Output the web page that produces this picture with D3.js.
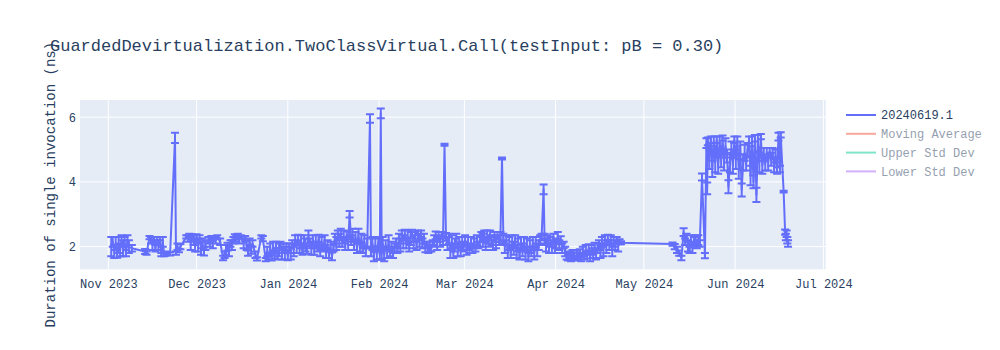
<!DOCTYPE html>
<html>
<head>
<meta charset="utf-8">
<script src="https://cdn.jsdelivr.net/npm/d3@7"></script>
<style>
  html, body { margin: 0; padding: 0; background: #fff; }
  svg { display: block; }
  text { font-family: "Liberation Mono", "Courier New", monospace; }
</style>
</head>
<body>
<svg id="chart" width="1000" height="350"></svg>
<script>
// ---------------- DATA ----------------
const chartTitle = "GuardedDevirtualization.TwoClassVirtual.Call(testInput: pB = 0.30)";
const yAxisTitle = "Duration of single invocation (ns)";
const seriesNames = ["20240619.1", "Moving Average", "Upper Std Dev", "Lower Std Dev"];
const seriesColors = ["#636efa", "#EF553B", "#00cc96", "#ab63fa"];
const seriesVisible = [true, false, false, false];
const yTickValues = [2, 4, 6];
const xRange = ["2023-10-22 09", "2024-07-01 19"];
const yRange = [1.30, 6.53];

const dates = [
  "2023-11-02 00","2023-11-02 12","2023-11-03 00","2023-11-03 12","2023-11-04 00","2023-11-04 12","2023-11-05 00","2023-11-05 12",
  "2023-11-06 00","2023-11-06 12","2023-11-07 00","2023-11-07 12","2023-11-08 00","2023-11-09 00","2023-11-13 12","2023-11-14 00",
  "2023-11-15 00","2023-11-15 12","2023-11-16 00","2023-11-16 12","2023-11-17 00","2023-11-17 12","2023-11-18 00","2023-11-18 12",
  "2023-11-19 00","2023-11-19 12","2023-11-20 00","2023-11-20 12","2023-11-21 00","2023-11-22 00","2023-11-23 16","2023-11-24 00",
  "2023-11-24 12","2023-11-25 00","2023-11-25 12","2023-11-27 12","2023-11-28 00","2023-11-28 12","2023-11-29 00","2023-11-29 12",
  "2023-11-30 00","2023-11-30 12",
  "2023-12-01 00","2023-12-01 12","2023-12-02 00","2023-12-02 12","2023-12-03 00","2023-12-03 12","2023-12-04 00","2023-12-05 00",
  "2023-12-05 12","2023-12-06 00","2023-12-06 12","2023-12-07 00","2023-12-07 12","2023-12-08 00","2023-12-09 00","2023-12-10 00",
  "2023-12-10 12","2023-12-11 00","2023-12-11 12","2023-12-12 00","2023-12-12 12","2023-12-13 00","2023-12-13 12","2023-12-14 00",
  "2023-12-14 12","2023-12-15 00","2023-12-15 12","2023-12-16 00","2023-12-17 00","2023-12-17 12","2023-12-18 00","2023-12-18 12",
  "2023-12-19 00","2023-12-19 12","2023-12-20 00","2023-12-21 00","2023-12-21 12","2023-12-23 00","2023-12-23 12","2023-12-24 12",
  "2023-12-25 00","2023-12-25 12","2023-12-26 00","2023-12-26 12","2023-12-27 00","2023-12-27 12","2023-12-28 00","2023-12-28 12",
  "2023-12-29 00","2023-12-29 12","2023-12-30 00","2023-12-30 12","2023-12-31 00","2023-12-31 12",
  "2024-01-01 00","2024-01-01 12","2024-01-02 00","2024-01-02 12","2024-01-03 00","2024-01-03 12","2024-01-04 00","2024-01-04 12",
  "2024-01-05 00","2024-01-05 12","2024-01-06 00","2024-01-06 12","2024-01-07 00","2024-01-07 12","2024-01-08 00","2024-01-08 12",
  "2024-01-09 00","2024-01-09 12","2024-01-10 00","2024-01-10 12","2024-01-11 00","2024-01-11 12","2024-01-12 00","2024-01-12 12",
  "2024-01-13 00","2024-01-13 12","2024-01-14 00","2024-01-14 12","2024-01-15 00","2024-01-15 12","2024-01-16 00","2024-01-16 12",
  "2024-01-17 00","2024-01-17 12","2024-01-18 00","2024-01-18 12","2024-01-19 00","2024-01-19 12","2024-01-20 00","2024-01-20 12",
  "2024-01-21 00","2024-01-21 12","2024-01-22 00","2024-01-22 12","2024-01-23 00","2024-01-23 12","2024-01-24 00","2024-01-24 12",
  "2024-01-25 00","2024-01-25 12","2024-01-26 00","2024-01-26 12","2024-01-27 00","2024-01-27 12","2024-01-28 00","2024-01-28 22",
  "2024-01-29 06","2024-01-29 18","2024-01-30 06","2024-01-30 18","2024-01-31 06","2024-01-31 18",
  "2024-02-01 06","2024-02-01 14","2024-02-01 22","2024-02-02 06","2024-02-02 18","2024-02-03 06","2024-02-03 18","2024-02-04 06",
  "2024-02-04 18","2024-02-05 06","2024-02-05 18","2024-02-06 06","2024-02-06 18","2024-02-07 06","2024-02-07 18","2024-02-08 06",
  "2024-02-08 18","2024-02-09 06","2024-02-09 18","2024-02-10 06","2024-02-10 18","2024-02-11 06","2024-02-11 18","2024-02-12 06",
  "2024-02-12 18","2024-02-13 06","2024-02-13 18","2024-02-14 06","2024-02-14 18","2024-02-15 06","2024-02-15 18","2024-02-16 06",
  "2024-02-16 18","2024-02-17 06","2024-02-17 18","2024-02-18 06","2024-02-18 18","2024-02-19 06","2024-02-19 18","2024-02-20 06",
  "2024-02-20 18","2024-02-21 06","2024-02-21 18","2024-02-22 06","2024-02-22 18","2024-02-23 06","2024-02-23 18","2024-02-24 06",
  "2024-02-24 18","2024-02-25 06","2024-02-25 18","2024-02-26 06","2024-02-26 18","2024-02-27 06","2024-02-27 18","2024-02-28 06",
  "2024-02-28 18","2024-02-29 06","2024-02-29 18",
  "2024-03-01 06","2024-03-01 18","2024-03-02 06","2024-03-02 18","2024-03-03 06","2024-03-03 18","2024-03-04 06","2024-03-04 18",
  "2024-03-05 06","2024-03-05 18","2024-03-06 06","2024-03-06 18","2024-03-07 06","2024-03-07 18","2024-03-08 06","2024-03-08 18",
  "2024-03-09 06","2024-03-09 18","2024-03-10 06","2024-03-10 18","2024-03-11 06","2024-03-11 18","2024-03-12 06","2024-03-12 18",
  "2024-03-13 06","2024-03-13 19","2024-03-14 06","2024-03-14 18","2024-03-15 06","2024-03-15 18","2024-03-16 06","2024-03-16 18",
  "2024-03-17 06","2024-03-17 18","2024-03-18 06","2024-03-18 18","2024-03-19 06","2024-03-19 18","2024-03-20 06","2024-03-20 18",
  "2024-03-21 06","2024-03-21 18","2024-03-22 06","2024-03-22 18","2024-03-23 06","2024-03-23 18","2024-03-24 06","2024-03-24 18",
  "2024-03-25 06","2024-03-25 18","2024-03-26 06","2024-03-26 18","2024-03-27 06","2024-03-27 22","2024-03-28 06","2024-03-28 18",
  "2024-03-29 06","2024-03-29 18","2024-03-30 06","2024-03-30 18","2024-03-31 06","2024-03-31 18",
  "2024-04-01 06","2024-04-01 18","2024-04-02 06","2024-04-02 18","2024-04-03 06","2024-04-03 18","2024-04-04 06","2024-04-04 18",
  "2024-04-05 06","2024-04-05 18","2024-04-06 06","2024-04-06 18","2024-04-07 06","2024-04-07 18","2024-04-08 06","2024-04-08 18",
  "2024-04-09 06","2024-04-09 18","2024-04-10 06","2024-04-10 18","2024-04-11 06","2024-04-11 18","2024-04-12 06","2024-04-12 18",
  "2024-04-13 06","2024-04-13 18","2024-04-14 06","2024-04-14 18","2024-04-15 06","2024-04-15 18","2024-04-16 06","2024-04-16 18",
  "2024-04-17 06","2024-04-17 18","2024-04-18 06","2024-04-18 18","2024-04-19 06","2024-04-19 18","2024-04-20 06","2024-04-20 18",
  "2024-04-21 06","2024-04-21 18","2024-04-22 06","2024-04-22 18","2024-04-23 06",
  "2024-05-10 18","2024-05-11 12","2024-05-12 06","2024-05-13 00","2024-05-13 18","2024-05-14 12","2024-05-15 00","2024-05-15 12",
  "2024-05-16 00","2024-05-16 12","2024-05-17 00","2024-05-17 12","2024-05-18 00","2024-05-18 12","2024-05-19 00","2024-05-19 12",
  "2024-05-20 00","2024-05-20 18","2024-05-21 18","2024-05-22 06","2024-05-22 12","2024-05-22 18","2024-05-23 06","2024-05-23 18",
  "2024-05-24 06","2024-05-24 18","2024-05-25 06","2024-05-25 18","2024-05-26 06","2024-05-26 18","2024-05-27 06","2024-05-27 18",
  "2024-05-28 06","2024-05-28 18","2024-05-29 06","2024-05-29 18","2024-05-30 06","2024-05-30 18","2024-05-31 06","2024-05-31 18",
  "2024-06-01 06","2024-06-01 18","2024-06-02 06","2024-06-02 18","2024-06-03 06","2024-06-03 18","2024-06-04 06","2024-06-04 18",
  "2024-06-05 06","2024-06-05 18","2024-06-06 06","2024-06-06 18","2024-06-07 06","2024-06-07 18","2024-06-08 06","2024-06-08 18",
  "2024-06-09 06","2024-06-09 18","2024-06-10 06","2024-06-10 18","2024-06-11 06","2024-06-11 18","2024-06-12 06","2024-06-12 18",
  "2024-06-13 06","2024-06-13 18","2024-06-14 06","2024-06-14 18","2024-06-15 06","2024-06-15 18","2024-06-16 06","2024-06-16 12",
  "2024-06-17 12","2024-06-18 00","2024-06-18 06","2024-06-18 12","2024-06-18 18","2024-06-19 00"
];

const values = [
  2.00,2.15,1.85,2.10,1.78,2.05,1.90,2.20, 1.95,2.15,1.80,2.20,2.00,1.95,1.85,1.80,
  2.28,2.20,2.05,2.25,1.95,2.20,2.05,2.25, 1.75,2.15,1.75,1.78,1.80,1.78,5.36,1.80,
  2.00,1.88,2.00,2.30,2.25,2.35,2.10,2.30, 2.20,2.00,
  2.30,2.05,2.25,1.95,2.10,1.85,2.05,2.20, 2.15,2.25,2.10,2.28,2.20,2.30,2.15,1.65,
  1.75,1.90,2.00,1.85,2.10,2.05,2.20,2.30, 2.25,2.35,2.20,2.30,2.10,2.25,2.05,1.80,
  2.15,1.90,2.10,1.75,1.62,2.30,2.25,1.60, 1.85,1.70,1.95,1.65,2.00,1.75,2.05,1.70,
  1.90,2.05,1.75,1.95,1.80,2.00,
  1.70,1.95,1.80,2.10,1.90,2.20,2.00,2.25, 1.95,2.15,1.85,2.20,2.05,1.90,2.30,2.10,
  1.95,2.20,1.90,2.15,2.00,2.25,1.85,2.10, 1.95,2.20,1.80,2.05,1.75,2.00,1.70,1.95,
  2.25,2.10,2.35,2.20,2.40,2.15,2.30,2.05, 2.35,2.10,3.00,2.20,2.35,2.05,2.30,1.95,
  2.35,2.00,2.25,1.90,2.15,1.85,2.10,5.96, 1.85,2.10,1.70,2.05,1.80,2.15,
  1.75,6.12,1.80,2.10,1.75,2.05,1.80,2.15, 1.85,2.00,1.75,1.95,2.10,1.90,2.25,2.05,
  2.35,2.15,2.40,2.10,2.30,2.00,2.25,2.40, 2.15,2.30,2.05,2.35,2.20,2.40,2.10,2.25,
  1.95,2.05,1.90,2.00,1.95,2.10,2.20,2.35, 2.10,2.30,2.15,2.35,2.20,5.15,2.30,2.10,
  2.25,1.85,2.15,1.80,2.05,2.25,1.90,2.15, 1.85,2.10,2.00,
  2.20,1.90,2.10,1.95,2.15,1.90,2.10,1.95, 2.20,2.05,2.15,2.30,2.20,2.35,2.10,2.30,
  2.15,2.40,2.20,2.05,2.30,2.15,2.35,2.20, 2.30,4.72,2.25,2.00,2.20,1.85,2.10,1.80,
  2.15,1.95,2.20,1.85,2.05,1.75,2.10,1.90, 2.15,1.80,2.05,1.70,2.00,1.85,2.10,1.80,
  2.15,1.90,2.05,2.20,2.30,3.77,2.25,2.05, 2.20,1.95,2.15,2.00,2.25,1.95,
  2.10,2.30,2.05,2.20,1.95,2.05,1.85,1.70, 1.65,1.75,1.65,1.80,1.70,1.65,1.75,1.70,
  1.80,1.65,1.85,1.70,1.90,1.75,1.95,1.70, 1.90,1.80,2.00,1.75,1.95,2.05,1.85,2.15,
  1.90,2.20,2.00,2.25,2.05,2.20,1.90,2.15, 2.05,2.20,2.00,2.15,2.12,
  2.08,2.00,1.90,1.80,1.65,2.45,2.15,2.30, 2.00,1.90,2.20,1.95,2.15,2.25,2.05,2.20,
  2.10,4.15,1.72,5.20,3.80,5.25,4.70,5.30, 4.40,5.25,4.60,5.30,4.50,5.20,4.70,5.35,
  4.55,5.10,4.80,3.85,4.60,5.00,4.50,5.30, 4.70,5.25,4.40,5.05,3.75,4.60,4.90,4.55,
  5.00,5.30,4.20,5.25,4.00,5.35,3.60,5.20, 4.60,5.40,4.50,4.85,4.55,4.90,4.60,4.95,
  4.70,4.90,4.50,4.80,4.35,5.40,4.40,5.45, 3.70,2.45,2.30,2.40,2.20,2.10
];

const errors = [
  0.30,0.15,0.20,0.20,0.12,0.25,0.20,0.15, 0.25,0.15,0.10,0.15,0.20,0.10,0.08,0.05,
  0.05,0.10,0.15,0.05,0.10,0.10,0.15,0.05, 0.05,0.15,0.05,0.05,0.05,0.05,0.16,0.05,
  0.10,0.05,0.08,0.05,0.10,0.05,0.20,0.08, 0.15,0.15,
  0.08,0.20,0.10,0.20,0.15,0.12,0.15,0.10, 0.15,0.08,0.15,0.05,0.10,0.05,0.10,0.07,
  0.10,0.15,0.12,0.15,0.10,0.15,0.10,0.08, 0.10,0.05,0.10,0.05,0.15,0.08,0.15,0.08,
  0.10,0.12,0.10,0.10,0.05,0.05,0.08,0.05, 0.15,0.10,0.15,0.08,0.15,0.12,0.10,0.10,
  0.20,0.10,0.15,0.15,0.20,0.10,
  0.12,0.15,0.20,0.10,0.20,0.15,0.20,0.12, 0.15,0.20,0.10,0.15,0.20,0.12,0.20,0.15,
  0.20,0.15,0.15,0.20,0.15,0.12,0.15,0.20, 0.10,0.15,0.15,0.15,0.10,0.15,0.12,0.10,
  0.15,0.20,0.15,0.20,0.15,0.15,0.20,0.15, 0.12,0.20,0.10,0.15,0.20,0.15,0.15,0.15,
  0.20,0.15,0.15,0.10,0.20,0.15,0.15,0.13, 0.15,0.20,0.15,0.20,0.20,0.15,
  0.15,0.15,0.20,0.20,0.20,0.15,0.15,0.20, 0.15,0.15,0.10,0.15,0.15,0.10,0.15,0.20,
  0.15,0.20,0.12,0.15,0.20,0.15,0.20,0.12, 0.20,0.15,0.15,0.15,0.20,0.10,0.15,0.15,
  0.12,0.10,0.10,0.15,0.10,0.10,0.15,0.12, 0.20,0.15,0.15,0.10,0.15,0.03,0.12,0.20,
  0.15,0.20,0.20,0.15,0.20,0.15,0.20,0.15, 0.15,0.20,0.15,
  0.15,0.15,0.20,0.15,0.15,0.10,0.15,0.10, 0.15,0.10,0.15,0.15,0.20,0.15,0.20,0.20,
  0.15,0.10,0.15,0.15,0.15,0.20,0.10,0.15, 0.15,0.03,0.15,0.20,0.15,0.20,0.20,0.15,
  0.20,0.20,0.15,0.20,0.20,0.15,0.20,0.20, 0.15,0.20,0.20,0.15,0.20,0.15,0.20,0.20,
  0.15,0.20,0.15,0.15,0.10,0.15,0.15,0.20, 0.15,0.15,0.15,0.20,0.15,0.15,
  0.15,0.15,0.15,0.12,0.15,0.10,0.15,0.10, 0.08,0.10,0.10,0.10,0.10,0.08,0.12,0.10,
  0.12,0.10,0.15,0.10,0.15,0.12,0.12,0.15, 0.15,0.15,0.12,0.15,0.15,0.15,0.20,0.15,
  0.20,0.15,0.20,0.12,0.15,0.15,0.20,0.15, 0.15,0.10,0.15,0.08,0.05,
  0.05,0.08,0.10,0.08,0.07,0.12,0.10,0.10, 0.15,0.10,0.15,0.15,0.15,0.10,0.10,0.15,
  0.10,0.11,0.08,0.15,0.18,0.12,0.30,0.10, 0.25,0.15,0.30,0.10,0.25,0.20,0.25,0.08,
  0.20,0.25,0.20,0.20,0.30,0.25,0.25,0.10, 0.30,0.15,0.30,0.20,0.20,0.25,0.25,0.20,
  0.20,0.10,0.30,0.15,0.20,0.10,0.22,0.25, 0.30,0.08,0.25,0.20,0.20,0.15,0.25,0.10,
  0.20,0.15,0.20,0.20,0.10,0.12,0.10,0.08, 0.03,0.08,0.10,0.10,0.10,0.10
];

// ---------------- CHART ----------------
const parse = d3.utcParse("%Y-%m-%d %H");
const data = dates.map((d, i) => ({ t: parse(d), v: values[i], e: errors[i] }));

const W = 1000, H = 350;
const plot = { left: 80, top: 100, right: 825.7, bottom: 269.3 };
const textColor = "#2a3f5f";

const svg = d3.select("#chart");
svg.append("rect").attr("width", W).attr("height", H).attr("fill", "#fff");

const x = d3.scaleUtc().domain(xRange.map(parse)).range([plot.left, plot.right]);
const y = d3.scaleLinear().domain(yRange).range([plot.bottom, plot.top]);

svg.append("rect")
  .attr("x", plot.left).attr("y", plot.top)
  .attr("width", plot.right - plot.left).attr("height", plot.bottom - plot.top)
  .attr("fill", "#e5ecf6");

// grid lines
const xTicks = x.ticks(d3.utcMonth.every(1));
svg.append("g").selectAll("line").data(xTicks).join("line")
  .attr("x1", d => x(d)).attr("x2", d => x(d))
  .attr("y1", plot.top).attr("y2", plot.bottom)
  .attr("stroke", "#fff").attr("stroke-width", 1);
svg.append("g").selectAll("line").data(yTickValues).join("line")
  .attr("x1", plot.left).attr("x2", plot.right)
  .attr("y1", d => y(d)).attr("y2", d => y(d))
  .attr("stroke", "#fff").attr("stroke-width", 1);

// axes (labels only)
const fmt = d3.utcFormat("%b %Y");
const xAxis = d3.axisBottom(x).tickValues(xTicks).tickFormat(fmt).tickSize(0).tickPadding(10);
const gx = svg.append("g").attr("transform", `translate(0,${plot.bottom})`).call(xAxis);
gx.select(".domain").remove();
gx.selectAll("text").attr("fill", textColor).style("font-size", "12px")
  .style("font-family", '"Liberation Mono", "Courier New", monospace');

const yAxis = d3.axisLeft(y).tickValues(yTickValues).tickFormat(d3.format("d")).tickSize(0).tickPadding(4);
const gy = svg.append("g").attr("transform", `translate(${plot.left - 0},0)`).call(yAxis);
gy.select(".domain").remove();
gy.selectAll("text").attr("fill", textColor).style("font-size", "12px")
  .style("font-family", '"Liberation Mono", "Courier New", monospace');

// clip
svg.append("clipPath").attr("id", "clip").append("rect")
  .attr("x", plot.left).attr("y", plot.top)
  .attr("width", plot.right - plot.left).attr("height", plot.bottom - plot.top);

const gPlot = svg.append("g").attr("clip-path", "url(#clip)");
const col = seriesColors[0];

// error bars
const eb = gPlot.append("g").attr("stroke", col).attr("stroke-width", 2).attr("fill", "none");
eb.selectAll("path").data(data).join("path")
  .attr("d", d => {
    const cx = x(d.t), y1 = y(d.v + d.e), y0 = y(d.v - d.e), w = 4;
    return `M${cx},${y0}V${y1}M${cx - w},${y1}H${cx + w}M${cx - w},${y0}H${cx + w}`;
  });

// line
const line = d3.line().x(d => x(d.t)).y(d => y(d.v));
gPlot.append("path").datum(data)
  .attr("d", line)
  .attr("fill", "none").attr("stroke", col).attr("stroke-width", 2)
  .attr("stroke-linejoin", "round");

// title
svg.append("text")
  .attr("x", 50).attr("y", 51)
  .attr("fill", textColor).style("font-size", "17px")
  .text(chartTitle);

// y-axis title
svg.append("text")
  .attr("transform", `translate(55,${(plot.top + plot.bottom) / 2}) rotate(-90)`)
  .attr("text-anchor", "middle")
  .attr("fill", textColor).style("font-size", "14px")
  .text(yAxisTitle);

// legend
const lg = svg.append("g").attr("transform", "translate(846,115)");
const rows = lg.selectAll("g").data(seriesNames).join("g")
  .attr("transform", (d, i) => `translate(0,${i * 18.8})`)
  .attr("opacity", (d, i) => seriesVisible[i] ? 1 : 0.5);
rows.append("line").attr("x1", 0).attr("x2", 30).attr("y1", 0).attr("y2", 0)
  .attr("stroke", (d, i) => seriesColors[i]).attr("stroke-width", 2);
rows.append("text").attr("x", 35).attr("y", 0).attr("dy", "0.35em")
  .attr("fill", textColor).style("font-size", "12px").text(d => d);
</script>
</body>
</html>
